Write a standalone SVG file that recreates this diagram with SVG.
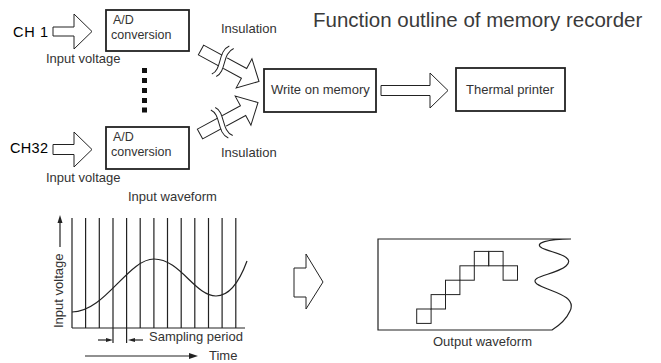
<svg xmlns="http://www.w3.org/2000/svg" width="661" height="363" viewBox="0 0 661 363">
<style>
text{font-family:"Liberation Sans",Arial,sans-serif;font-size:13px;fill:#333}
.ad{font-size:12.5px}
.ch{font-size:14.5px;fill:#000}
.title{font-size:20.5px;fill:#3a3a3a}
.box{fill:#fff;stroke:#222;stroke-width:1.8}
.hollow{fill:#fff;stroke:#222;stroke-width:1;stroke-linejoin:miter}
.ln{fill:none;stroke:#222;stroke-width:1.2}
.thin{fill:none;stroke:#222;stroke-width:1}
</style>
<defs>
<g id="insArrow">
<path class="hollow" d="M0,-5.5 L49,-5.5 L49,-16.5 L66,0 L49,16.5 L49,5.5 L0,5.5 Z"/>
<path d="M21.5,-6.5 C19,-2 25,2 22.5,6.5 L28,6.5 C30.5,2 24.5,-2 27,-6.5 Z" fill="#fff"/>
<path class="thin" d="M23,-17 C15,-7 28,7 21,16"/>
<path class="thin" d="M28,-17 C20,-7 33,7 26,16"/>
</g>
</defs>
<text class="title" x="313" y="27">Function outline of memory recorder</text>
<g id="ch1">
<text class="ch" x="13" y="37" textLength="35">CH 1</text>
<path class="hollow" d="M53,27 L74,27 L74,14 L92,31.5 L74,49 L74,36 L53,36 Z"/>
<text x="46" y="63">Input voltage</text>
</g>
<g id="ad1">
<rect class="box" x="106" y="10" width="83" height="41"/>
<text class="ad" x="113" y="24">A/D</text>
<text class="ad" x="111" y="38.5">conversion</text>
</g>
<g id="dots" fill="#111">
<rect x="142" y="68" width="5" height="5"/>
<rect x="142" y="78" width="5" height="5"/>
<rect x="142" y="88" width="5" height="5"/>
<rect x="142" y="98" width="5" height="5"/>
<rect x="142" y="107.5" width="5" height="5"/>
</g>
<g id="ch32">
<text class="ch" x="10" y="153" textLength="38">CH32</text>
<path class="hollow" d="M53,144.5 L74,144.5 L74,132 L92,149.5 L74,167 L74,154.5 L53,154.5 Z"/>
<text x="46" y="182">Input voltage</text>
</g>
<g id="ad32">
<rect class="box" x="106" y="127" width="83" height="42"/>
<text class="ad" x="113" y="141">A/D</text>
<text class="ad" x="111" y="155.5">conversion</text>
</g>
<g id="connectors">
<use href="#insArrow" transform="translate(201,50) rotate(28.5)"/>
<use href="#insArrow" transform="translate(200,134) rotate(-28.5) scale(1,-1)"/>
<text x="221" y="33">Insulation</text>
<text x="221" y="157">Insulation</text>
<path class="hollow" d="M381,85.5 L430,85.5 L430,73 L448,90.5 L430,108 L430,95.5 L381,95.5 Z"/>
</g>
<g id="write">
<rect class="box" x="264" y="69" width="112" height="43"/>
<text x="271" y="94">Write on memory</text>
</g>
<g id="printer">
<rect class="box" x="456" y="68" width="109" height="43"/>
<text x="466" y="94">Thermal printer</text>
</g>
<g id="inputWave">
<text x="128" y="201">Input waveform</text>
<g class="ln">
<path d="M72,218V328M85.6,218V328M99.3,218V328M113,218V343M126.6,218V343M140.2,218V328M153.9,218V328M167.5,218V328M181.2,218V328M194.8,218V328M208.5,218V328M222.1,218V328M235.8,218V328"/>
<path d="M72,328H245"/>
<path d="M72,312 C105,312 128,259 154,259 C180,259 195,296 216,296 C230,296 240,280 247,261"/>
<path d="M60,247V222"/>
<path d="M98,340H107"/>
<path d="M134,340H143"/>
<path d="M85,356H190"/>
</g>
<path d="M57.5,223 L60,215 L62.5,223 Z" fill="#222"/>
<path d="M106,338 L113,340 L106,342 Z" fill="#222"/>
<path d="M135,338 L128,340 L135,342 Z" fill="#222"/>
<path d="M189,353 L198,356 L189,359 Z" fill="#222"/>
<text transform="translate(62.5,328) rotate(-90)">Input voltage</text>
<text x="149" y="341">Sampling period</text>
<text x="209" y="360">Time</text>
</g>
<path id="midArrow" class="hollow" d="M294,268 L306,268 L306,254 L323,282 L306,309 L306,297 L294,297 Z"/>
<g id="outputWave">
<path class="ln" d="M378,239 L571,239 C548,239 533,243 542,248 C552,253 577,256 566,266 C556,275 527,276 537,284 C547,291 578,295 570,311 C566,320 560,325 552,330 L378,330 Z"/>
<g class="thin">
<rect x="416.7" y="309" width="14.4" height="14.4"/>
<rect x="431.1" y="294.6" width="14.4" height="14.4"/>
<rect x="445.5" y="280.2" width="14.4" height="14.4"/>
<rect x="459.9" y="265.8" width="14.4" height="14.4"/>
<rect x="474.3" y="251.4" width="14.4" height="14.4"/>
<rect x="488.7" y="251.4" width="14.4" height="14.4"/>
<rect x="503.1" y="265.8" width="14.4" height="14.4"/>
</g>
<text x="433" y="346">Output waveform</text>
</g>
</svg>
